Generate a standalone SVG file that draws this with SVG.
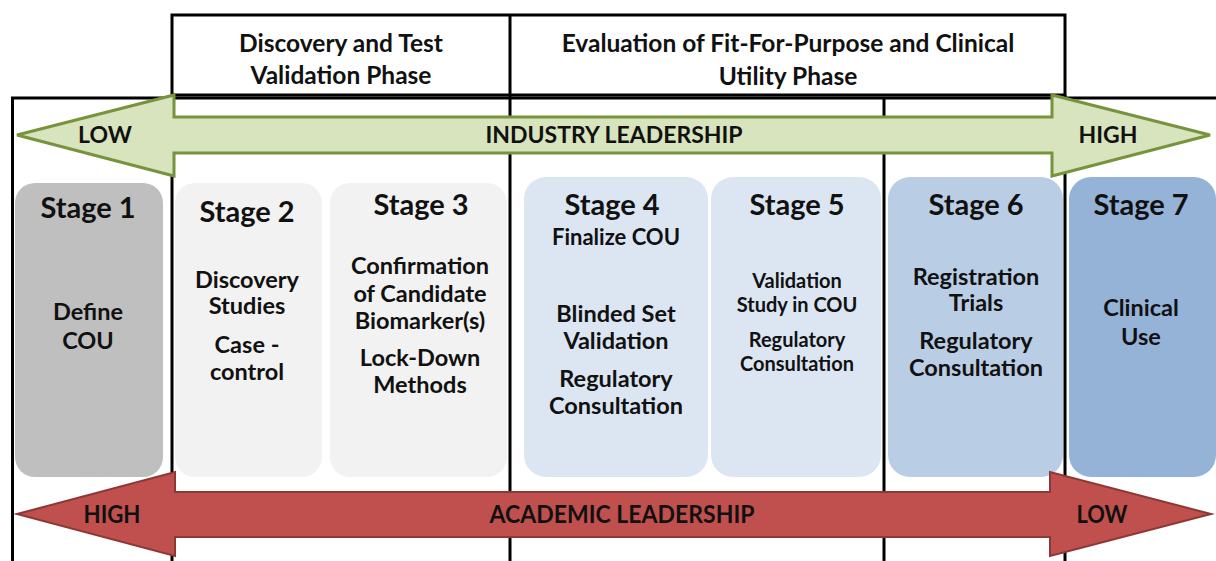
<svg xmlns="http://www.w3.org/2000/svg" width="1216" height="561" viewBox="0 0 1216 561">
<defs>
<style>
text{font-family:Lato,"Open Sans","Liberation Sans",sans-serif;font-weight:bold;fill:#111;text-anchor:middle}
.ph{font-size:24.5px}
.st{font-size:29px}
.bd{font-size:23.5px}
.fc{font-size:22px}
.sm{font-size:20px}
.ar{font-size:23px}
.ra{font-size:24px}
.ln{stroke:#000;stroke-width:3;fill:none}
.g{fill:#d7e4bd;stroke:#77933c;stroke-width:3;stroke-linejoin:miter}
.r{fill:#c0504d;stroke:#8c3836;stroke-width:2}
</style>
</defs>
<rect width="1216" height="561" fill="#fff"/>
<g id="frame">
<rect class="ln" x="172" y="15" width="893" height="80"/>
<line class="ln" x1="510" y1="15" x2="510" y2="561"/>
<line class="ln" x1="11" y1="98" x2="1216" y2="98"/>
<line class="ln" x1="12.5" y1="97" x2="12.5" y2="561"/>
<line class="ln" x1="172" y1="95" x2="172" y2="561"/>
<line class="ln" x1="884" y1="98" x2="884" y2="561"/>
<line class="ln" x1="1065" y1="95" x2="1065" y2="561"/>
</g>
<g id="phase-discovery">
<text class="ph" x="341" y="52">Discovery and Test</text>
<text class="ph" x="341" y="84">Validation Phase</text>
</g>
<g id="phase-evaluation">
<text class="ph" x="788" y="52">Evaluation of Fit-For-Purpose and Clinical</text>
<text class="ph" x="788" y="85">Utility Phase</text>
</g>
<g id="industry-arrow">
<polygon class="g" points="17,135 174,95 174,117 1052,117 1052,95 1210,135 1052,176 1052,153 174,153 174,176"/>
<text class="ar" x="105" y="143">LOW</text>
<text class="ar" x="614" y="143">INDUSTRY LEADERSHIP</text>
<text class="ar" x="1108" y="143">HIGH</text>
</g>
<g id="stage1">
<rect x="15" y="183" width="148" height="294" rx="20" fill="#bfbfbf"/>
<text class="st" x="88" y="218">Stage 1</text>
<text class="bd" x="88" y="319.5">Define</text>
<text class="bd" x="88" y="348.5">COU</text>
</g>
<g id="stage2">
<rect x="175" y="183" width="147" height="294" rx="20" fill="#f2f2f2"/>
<text class="st" x="247" y="222">Stage 2</text>
<text class="bd" x="247" y="287.5">Discovery</text>
<text class="bd" x="247" y="313.5">Studies</text>
<text class="bd" x="247" y="352.5">Case -</text>
<text class="bd" x="247" y="379.5">control</text>
</g>
<g id="stage3">
<rect x="330" y="183" width="177" height="294" rx="20" fill="#f2f2f2"/>
<text class="st" x="421" y="215">Stage 3</text>
<text class="bd" x="420" y="273.5">Confirmation</text>
<text class="bd" x="420" y="301.5">of Candidate</text>
<text class="bd" x="420" y="328.5">Biomarker(s)</text>
<text class="bd" x="420" y="365.5">Lock-Down</text>
<text class="bd" x="420" y="392.5">Methods</text>
</g>
<g id="stage4">
<rect x="524" y="177" width="184" height="300" rx="22" fill="#dce6f2"/>
<text class="st" x="612" y="215">Stage 4</text>
<text class="fc" x="616" y="245">Finalize COU</text>
<text class="bd" x="616" y="321.5">Blinded Set</text>
<text class="bd" x="616" y="348.5">Validation</text>
<text class="bd" x="616" y="386.5">Regulatory</text>
<text class="bd" x="616" y="413.5">Consultation</text>
</g>
<g id="stage5">
<rect x="711" y="177" width="170" height="300" rx="22" fill="#dce6f2"/>
<text class="st" x="797" y="215">Stage 5</text>
<text class="sm" x="797" y="288">Validation</text>
<text class="sm" x="797" y="312">Study in COU</text>
<text class="sm" x="797" y="347">Regulatory</text>
<text class="sm" x="797" y="371">Consultation</text>
</g>
<g id="stage6">
<rect x="888" y="177" width="175" height="300" rx="22" fill="#b9cde5"/>
<text class="st" x="976" y="215">Stage 6</text>
<text class="bd" x="976" y="284.5">Registration</text>
<text class="bd" x="976" y="310.5">Trials</text>
<text class="bd" x="976" y="348.5">Regulatory</text>
<text class="bd" x="976" y="375.5">Consultation</text>
</g>
<g id="stage7">
<rect x="1069" y="177" width="147" height="300" rx="22" fill="#95b3d7"/>
<text class="st" x="1141" y="215">Stage 7</text>
<text class="bd" x="1141" y="315.5">Clinical</text>
<text class="bd" x="1141" y="344.5">Use</text>
</g>
<g id="academic-arrow">
<polygon class="r" points="17,514 175,472 175,492 1050,492 1050,472 1211,514 1050,556 1050,537 175,537 175,556"/>
<text class="ra" x="112" y="523" textLength="57" lengthAdjust="spacingAndGlyphs">HIGH</text>
<text class="ra" x="622" y="523" textLength="265" lengthAdjust="spacingAndGlyphs">ACADEMIC LEADERSHIP</text>
<text class="ra" x="1102" y="523" textLength="51" lengthAdjust="spacingAndGlyphs">LOW</text>
</g>
<g id="connectors"/>
</svg>
